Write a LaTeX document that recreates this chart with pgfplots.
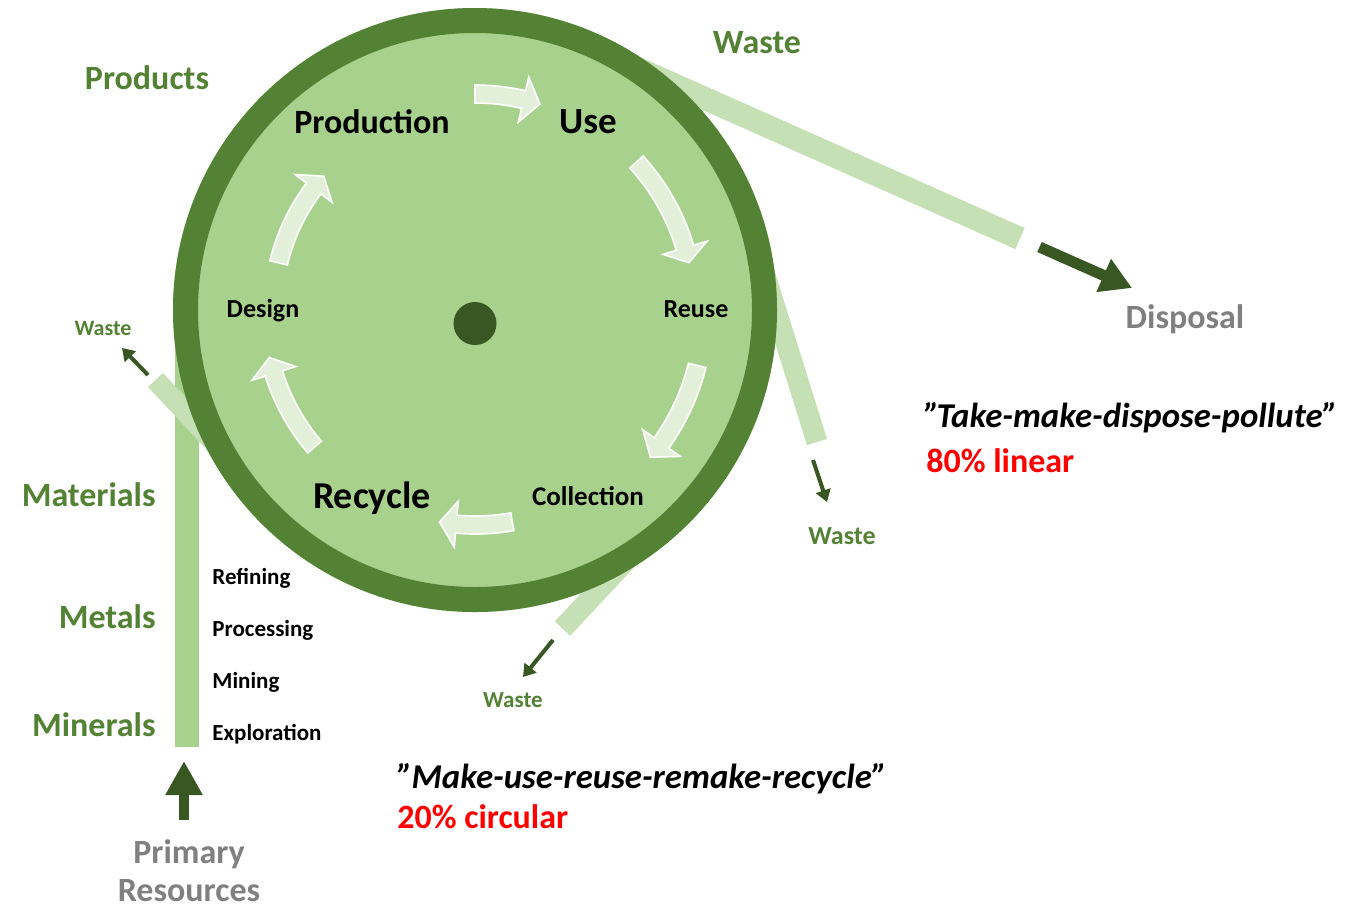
\documentclass[border=0pt]{standalone}
\usepackage{pgfplots}
\pgfplotsset{compat=1.18}
\usepackage{fontspec}
\setmainfont{Carlito}
\usetikzlibrary{arrows.meta,calc}
\definecolor{lightfill}{HTML}{A9D18E}
\definecolor{ringc}{HTML}{548235}
\definecolor{stripc}{HTML}{C5E0B4}
\definecolor{darkc}{HTML}{385723}
\definecolor{arrowc}{HTML}{E2F0D9}
\definecolor{textg}{HTML}{548235}
\definecolor{greyc}{HTML}{808080}
\definecolor{redc}{HTML}{FF0000}
\newcommand{\fs}[1]{\fontsize{#1pt}{#1pt}\selectfont}
% curved block arrow: r(px), start angle, head-base angle, tip angle
\newcommand{\carrow}[4]{%
  \filldraw[fill=arrowc, draw=white, line width=0.8pt]
   ($(axis cs:475,310)+(#2:{(#1+9)*0.5pt})$) arc[start angle=#2, end angle=#3, radius={(#1+9)*0.5pt}]
   -- ($(axis cs:475,310)+(#3:{(#1+23)*0.5pt})$)
   -- ($(axis cs:475,310)+(#4:{(#1)*0.5pt})$)
   -- ($(axis cs:475,310)+(#3:{(#1-23)*0.5pt})$)
   -- ($(axis cs:475,310)+(#3:{(#1-9)*0.5pt})$) arc[start angle=#3, end angle=#2, radius={(#1-9)*0.5pt}]
   -- cycle;}
\begin{document}
\begin{tikzpicture}
\begin{axis}[width=682.5pt, height=453.5pt, scale only axis,
  xmin=0, xmax=1365, ymin=0, ymax=907, y dir=reverse,
  hide axis, clip=false]
\addplot[draw=none] coordinates {(0,0) (1365,907)};
% strips
\addplot[stripc, line width=11.5pt] coordinates {(596,50) (1020,238.5)};
\addplot[stripc, line width=10.5pt] coordinates {(757.4,251.2) (817,442)};
\addplot[stripc, line width=10.5pt] coordinates {(665,519) (562.5,628.5)};
\addplot[lightfill, line width=12pt] coordinates {(187,300) (187,747)};
\addplot[stripc, line width=10.25pt] coordinates {(224,453) (155.5,380)};
% dark arrows
\addplot[darkc, line width=5.5pt, -{Triangle[width=17pt,length=15.5pt]}] coordinates {(1039.5,247) (1132,288)};
\addplot[darkc, line width=2pt, -{Triangle[width=7.5pt,length=6pt]}] coordinates {(813,460) (827,502)};
\addplot[darkc, line width=2pt, -{Triangle[width=7.5pt,length=6pt]}] coordinates {(553,640) (523,677)};
\addplot[darkc, line width=2pt, -{Triangle[width=7.5pt,length=6pt]}] coordinates {(148,375) (122,348)};
\addplot[darkc, line width=5pt, -{Triangle[width=17.5pt,length=17pt]}] coordinates {(184,820) (184,761)};
% wheel
\fill[lightfill] (axis cs:475,310) circle[radius=151pt];
\draw[ringc, line width=12.5pt] (axis cs:475,310) circle[radius=144.75pt];
\fill[darkc] (axis cs:475,323.5) circle[radius=10.75pt];
% inner arrows
\carrow{216}{90}{77}{72.5}
\carrow{219}{42.5}{16.5}{12.5}
\carrow{229}{-14}{-35.5}{-40}
\carrow{215}{-80}{-95}{-99.5}
\carrow{211}{-139.5}{-162.5}{-167}
\carrow{202}{166.5}{143}{138.5}
% texts
\tikzset{every node/.style={inner sep=0pt, font=\bfseries}}
\node[anchor=base, text=textg, font=\bfseries\fs{17}] at (axis cs:147,89) {Products};
\node[anchor=base, text=textg, font=\bfseries\fs{17}] at (axis cs:757,53) {Waste};
\node[anchor=base, font=\bfseries\fs{17}] at (axis cs:372,133) {Production};
\node[anchor=base, font=\bfseries\fs{18.5}] at (axis cs:588,133) {Use};
\node[anchor=base, font=\bfseries\fs{13}] at (axis cs:263,317.5) {Design};
\node[anchor=base, font=\bfseries\fs{13}] at (axis cs:696,317.5) {Reuse};
\node[anchor=base, font=\bfseries\fs{19}] at (axis cs:372,508) {Recycle};
\node[anchor=base, font=\bfseries\fs{13.5}] at (axis cs:588,505.7) {Collection};
\node[anchor=base, text=textg, font=\bfseries\fs{11}] at (axis cs:103,335) {Waste};
\node[anchor=base east, text=textg, font=\bfseries\fs{17}] at (axis cs:156,506) {Materials};
\node[anchor=base east, text=textg, font=\bfseries\fs{17}] at (axis cs:156,628) {Metals};
\node[anchor=base east, text=textg, font=\bfseries\fs{17}] at (axis cs:156,736) {Minerals};
\node[anchor=base west, font=\bfseries\fs{11.5}] at (axis cs:212,584.5) {Refining};
\node[anchor=base west, font=\bfseries\fs{11.5}] at (axis cs:212,636.5) {Processing};
\node[anchor=base west, font=\bfseries\fs{11.5}] at (axis cs:212,688.5) {Mining};
\node[anchor=base west, font=\bfseries\fs{11.5}] at (axis cs:212,740.5) {Exploration};
\node[anchor=base, text=textg, font=\bfseries\fs{13}] at (axis cs:842,544) {Waste};
\node[anchor=base, text=textg, font=\bfseries\fs{11.5}] at (axis cs:513,707) {Waste};
\node[anchor=base, text=greyc, font=\bfseries\fs{17}] at (axis cs:1185,328) {Disposal};
\node[anchor=base west, font=\bfseries\itshape\fs{17.4}] at (axis cs:924,427) {”\kern-1.5pt Take-make-dispose-pollute”};
\node[anchor=base west, text=redc, font=\bfseries\fs{17}] at (axis cs:926,472) {80\% linear};
\node[anchor=base west, font=\bfseries\itshape\fs{17.4}] at (axis cs:397,788) {”\kern-0.5pt Make-use-reuse-remake-recycle”};
\node[anchor=base west, text=redc, font=\bfseries\fs{17}] at (axis cs:397,828) {20\% circular};
\node[anchor=base, text=greyc, font=\bfseries\fs{17}] at (axis cs:189,863) {Primary};
\node[anchor=base, text=greyc, font=\bfseries\fs{17}] at (axis cs:189,901) {Resources};
\end{axis}
\end{tikzpicture}
\end{document}
